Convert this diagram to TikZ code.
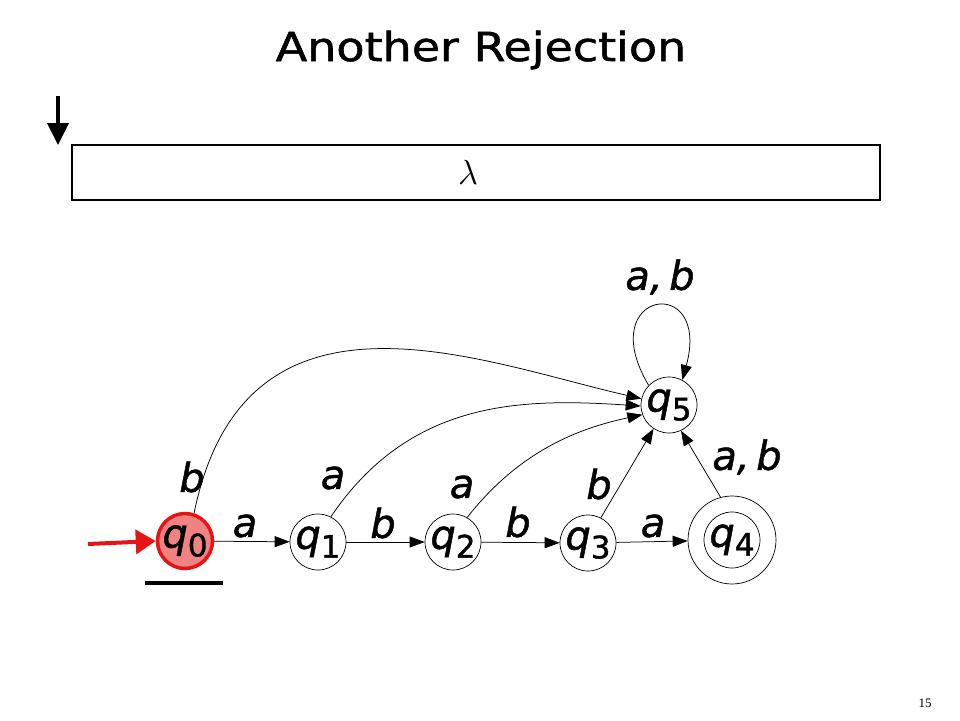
\documentclass[tikz,border=0pt]{standalone}
\usepackage{fontspec}
\setmainfont{DejaVu Sans}
\newfontfamily\numfont{Liberation Serif}
\newfontfamily\heavyfont[FakeBold=1.2]{DejaVu Sans}
\usetikzlibrary{arrows.meta}
\definecolor{qred}{RGB}{230,20,20}
\definecolor{qfill}{RGB}{240,130,130}
\newcommand\stq[1]{\textit{q}\raisebox{-0.22em}{\fontsize{31}{31}\selectfont #1}}
\tikzset{
  stnode/.style={circle,draw,line width=0.7pt,minimum size=56pt,inner sep=0pt,font=\heavyfont\fontsize{40}{40}\selectfont},
  lbl/.style={font=\heavyfont\fontsize{40}{40}\selectfont\itshape,inner sep=0pt},
  tr/.style={line width=0.75pt,-{Triangle[length=15pt,width=11pt]}},
}
\begin{document}
\begin{tikzpicture}[x=1pt,y=-1pt]
\useasboundingbox (0,0) rectangle (960,720);
\node (title) at (481,50) {\heavyfont\fontsize{40}{40}\selectfont\scalebox{1.15}[1]{Another Rejection}};
\coordinate (hd0) at (58,96);
\coordinate (hd1) at (58,145);
\draw[line width=4pt,-{Triangle[length=22pt,width=21pt]}] (hd0) -- (hd1);
\node[draw,line width=1.1pt,minimum width=808pt,minimum height=55pt,inner sep=0pt] (tape) at (476,172.5) {};
\node (lam) at (468,172) {\fontsize{24}{24}\selectfont\scalebox{1.4}{$\lambda$}};
% states
\node[stnode,draw=qred,fill=qfill,line width=3.5pt,minimum size=54pt] (q0) at (185,541) {\stq{0}};
\node[stnode] (q1) at (318,542) {\stq{1}};
\node[stnode] (q2) at (453,542) {\stq{2}};
\node[stnode] (q3) at (588,543) {\stq{3}};
\node[stnode] (q4) at (732,540) {\stq{4}};
\node[circle,draw,line width=0.7pt,minimum size=88pt] (q4o) at (q4) {};
\node[stnode] (q5) at (669,405) {\stq{5}};
% start arrow and underline
\coordinate (st) at (88,544);
\draw[line width=4pt,qred,-{Triangle[length=20pt,width=24pt]}] (st) -- (q0.west);
\coordinate (u0) at (145,583);
\coordinate (u1) at (223,583);
\draw[line width=4pt] (u0) -- (u1);
% transitions
\draw[tr] (q0) -- (q1);
\draw[tr] (q1) -- (q2);
\draw[tr] (q2) -- (q3);
\draw[tr] (q3) -- (q4o);
\draw[tr] (q0.72) .. controls (245,265) and (480,362) .. (q5.167);
\draw[tr] (q1.63) .. controls (410,400) and (520,398) .. (q5.182);
\draw[tr] (q2.60) .. controls (520,450) and (580,428) .. (q5.200);
\draw[tr] (q3.63) -- (q5.237);
\draw[tr] (q4o.105) -- (q5.295);
\draw[tr] (q5.136) .. controls (592,290) and (712,272) .. (q5.62);
% labels
\node[lbl] (l01) at (245,526) {a};
\node[lbl] (l12) at (383,523) {b};
\node[lbl] (l23) at (518,522) {b};
\node[lbl] (l34) at (653,526) {a};
\node[lbl] (l05) at (192,477) {b};
\node[lbl] (l15) at (333,478) {a};
\node[lbl] (l25) at (462,487) {a};
\node[lbl] (l35) at (599,484) {b};
\node[lbl] (l45) at (747,457) {a,\,b};
\node[lbl] (l55) at (660,277) {a,\,b};
\node (pg) at (925,703) {\numfont\fontsize{13}{13}\selectfont 15};
\end{tikzpicture}
\end{document}
